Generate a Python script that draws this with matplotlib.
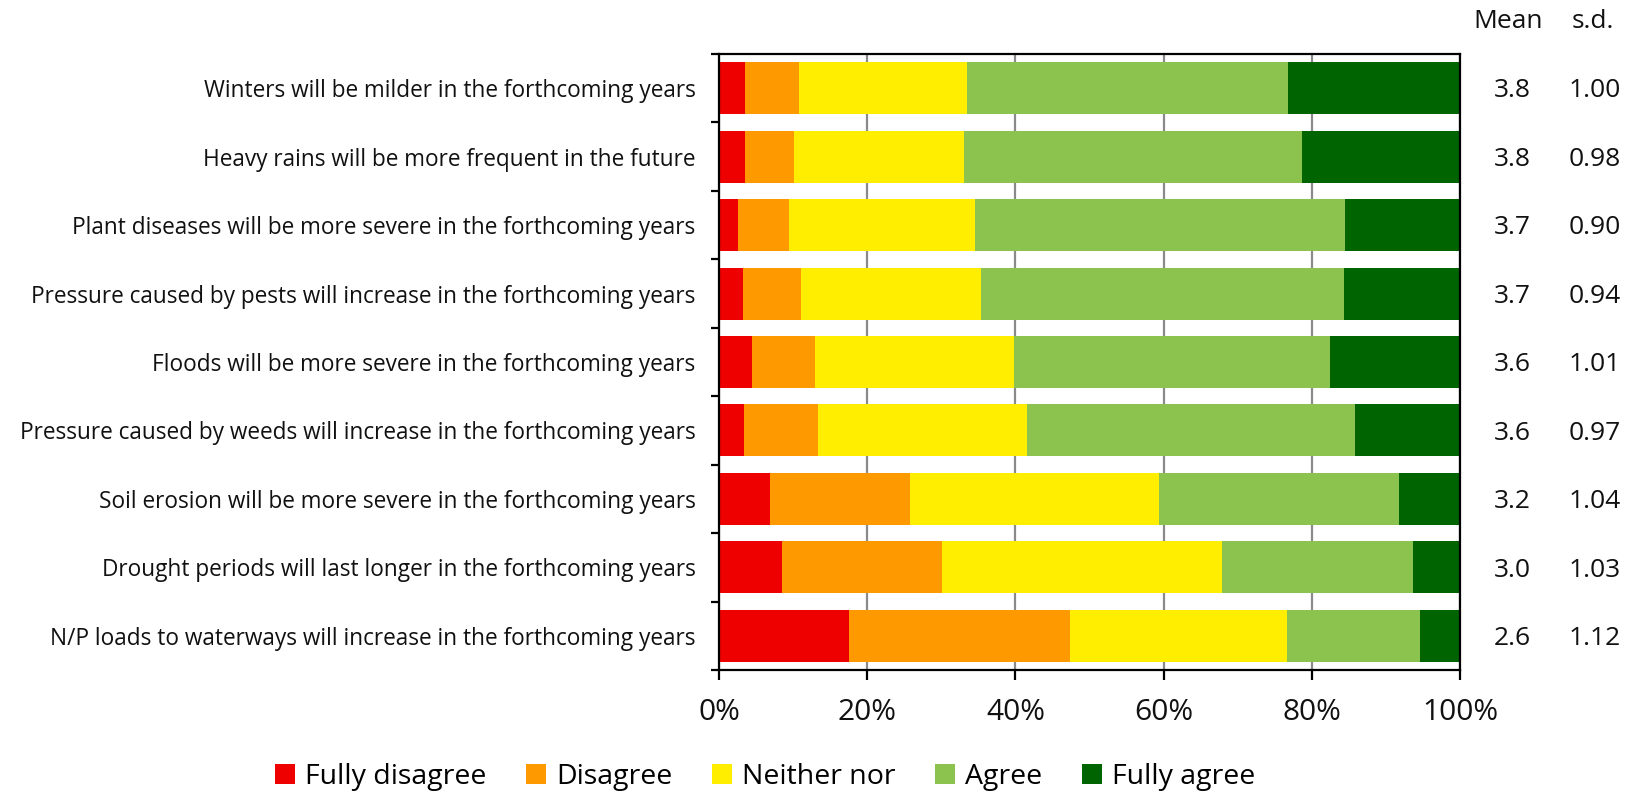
import matplotlib
matplotlib.use('Agg')
import matplotlib.pyplot as plt
import matplotlib.transforms as mtransforms
from matplotlib.patches import Patch
import numpy as np

plt.rcParams['font.family'] = ['Open Sans', 'DejaVu Sans']

# statements, top to bottom
statements = [
    'Winters will be milder in the forthcoming years',
    'Heavy rains will be more frequent in the future',
    'Plant diseases will be more severe in the forthcoming years',
    'Pressure caused by pests will increase in the forthcoming years',
    'Floods will be more severe in the forthcoming years',
    'Pressure caused by weeds will increase in the forthcoming years',
    'Soil erosion will be more severe in the forthcoming years',
    'Drought periods will last longer in the forthcoming years',
    'N/P loads to waterways will increase in the forthcoming years',
]

# share of answers (%) per statement
fully_disagree = [3.5, 3.5, 2.6, 3.2, 4.4, 3.4, 6.9, 8.5, 17.5]
disagree = [7.3, 6.6, 6.9, 7.9, 8.6, 9.9, 18.9, 21.6, 29.9]
neither_nor = [22.7, 22.9, 25.1, 24.2, 26.8, 28.3, 33.6, 37.8, 29.3]
agree = [43.3, 45.7, 49.9, 49.1, 42.6, 44.2, 32.4, 25.7, 17.9]
fully_agree = [23.2, 21.3, 15.5, 15.6, 17.6, 14.2, 8.2, 6.4, 5.4]

means = ['3.8', '3.8', '3.7', '3.7', '3.6', '3.6', '3.2', '3.0', '2.6']
sds = ['1.00', '0.98', '0.90', '0.94', '1.01', '0.97', '1.04', '1.03', '1.12']

answer_labels = ['Fully disagree', 'Disagree', 'Neither nor', 'Agree', 'Fully agree']
answer_colors = ['#EE0000', '#FF9900', '#FFEE00', '#8CC24E', '#006400']
x_ticks = [0, 20, 40, 60, 80, 100]

fig = plt.figure(figsize=(16.39, 7.91), dpi=100)
ax = fig.add_axes([719 / 1639, 1 - 670 / 791, 741 / 1639, 616 / 791])

y = np.arange(len(statements))
left = np.zeros(len(statements))
series = [fully_disagree, disagree, neither_nor, agree, fully_agree]
for vals, color in zip(series, answer_colors):
    ax.barh(y, vals, left=left, height=0.76, color=color, zorder=2)
    left += np.array(vals)

ax.set_xlim(0, 100)
ax.set_ylim(len(statements) - 0.5, -0.5)
ax.set_xticks(x_ticks)
ax.set_xticklabels(['%d%%' % t for t in x_ticks], fontsize=21.5, color='#111111')
ax.xaxis.grid(True, color='#8a8a8a', linewidth=1.6, zorder=0)
ax.set_axisbelow(True)
ax.tick_params(axis='x', direction='out', length=7, width=1.6, pad=13)

ax.set_yticks(y)
ax.set_yticklabels(statements, fontsize=16.3, color='#111111')
ax.set_yticks(np.arange(-0.5, len(statements)), minor=True)
ax.tick_params(axis='y', which='major', length=0, pad=17)
ax.tick_params(axis='y', which='minor', direction='out', length=6, width=1.6)

for side in ['top', 'bottom', 'left', 'right']:
    ax.spines[side].set_linewidth(1.6)
    ax.spines[side].set_color('black')

# mean and s.d. columns
trans = mtransforms.blended_transform_factory(fig.transFigure, ax.transData)
for i in range(len(statements)):
    ax.text(1512 / 1639, i + 0.04, means[i], transform=trans, ha='center',
            va='center', fontsize=19, color='#111111', clip_on=False)
    ax.text(1595 / 1639, i + 0.04, sds[i], transform=trans, ha='center',
            va='center', fontsize=19, color='#111111', clip_on=False)
fig.text(1508 / 1639, 1 - 22 / 791, 'Mean', ha='center', va='center',
         fontsize=19, color='#111111')
fig.text(1593 / 1639, 1 - 22 / 791, 's.d.', ha='center', va='center',
         fontsize=19, color='#111111')

handles = [Patch(facecolor=c, edgecolor='none') for c in answer_colors]
fig.legend(handles, answer_labels, loc='center', ncol=5,
           bbox_to_anchor=(765 / 1639, 1 - 777 / 791), frameon=False,
           fontsize=20.5, handlelength=0.7, handleheight=0.7,
           handletextpad=0.35, columnspacing=1.4)

fig.savefig('out.png', dpi=100, facecolor='white')
